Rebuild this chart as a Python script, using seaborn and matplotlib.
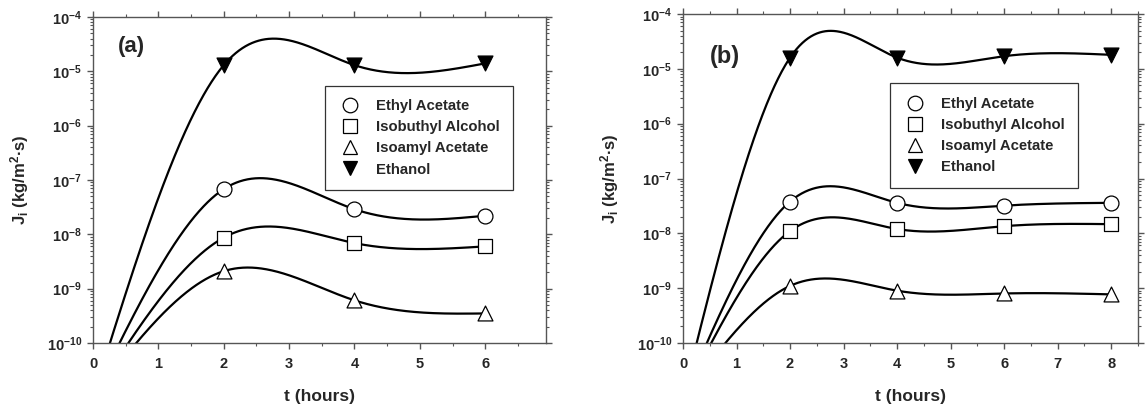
import numpy as np
import pandas as pd
import matplotlib
matplotlib.use("Agg")
import matplotlib.pyplot as plt
from matplotlib.lines import Line2D
from matplotlib.ticker import FixedLocator, MultipleLocator, LogLocator, NullFormatter
import seaborn as sns

# ---------------- data ----------------
species = ["Ethyl Acetate", "Isobuthyl Alcohol", "Isoamyl Acetate", "Ethanol"]

t_a = [2, 4, 6]
ethyl_a = [6.8e-8, 2.9e-8, 2.2e-8]
isobutyl_a = [8.7e-9, 6.9e-9, 6.0e-9]
isoamyl_a = [2.1e-9, 6.1e-10, 3.5e-10]
ethanol_a = [1.3e-5, 1.3e-5, 1.4e-5]

t_b = [2, 4, 6, 8]
ethyl_b = [3.8e-8, 3.6e-8, 3.2e-8, 3.6e-8]
isobutyl_b = [1.1e-8, 1.2e-8, 1.35e-8, 1.47e-8]
isoamyl_b = [1.1e-9, 9.0e-10, 8.0e-10, 7.7e-10]
ethanol_b = [1.6e-5, 1.6e-5, 1.7e-5, 1.8e-5]

# spline anchor at t = 0 (curves start from the origin region)
T0 = 0.0
FLUX_T0 = 1e-11

y_exponents = [-10, -9, -8, -7, -6, -5, -4]
panel_labels = ["(a)", "(b)"]

# ---------------- style ----------------
sns.set_theme(style="ticks")
plt.rcParams["font.family"] = ["Liberation Sans", "DejaVu Sans"]
plt.rcParams["font.weight"] = "bold"
plt.rcParams["mathtext.fontset"] = "custom"
plt.rcParams["mathtext.rm"] = "Liberation Sans:bold"
plt.rcParams["mathtext.bf"] = "Liberation Sans:bold"
plt.rcParams["mathtext.it"] = "Liberation Sans:bold"
plt.rcParams["mathtext.default"] = "bf"

SPINE = "#555555"


def natural_spline(x, y, xs):
    x = np.asarray(x, float)
    y = np.asarray(y, float)
    n = len(x)
    h = np.diff(x)
    A = np.zeros((n, n))
    b = np.zeros(n)
    A[0, 0] = 1
    A[-1, -1] = 1
    for i in range(1, n - 1):
        A[i, i - 1] = h[i - 1]
        A[i, i] = 2 * (h[i - 1] + h[i])
        A[i, i + 1] = h[i]
        b[i] = 6 * ((y[i + 1] - y[i]) / h[i] - (y[i] - y[i - 1]) / h[i - 1])
    M = np.linalg.solve(A, b)
    idx = np.clip(np.searchsorted(x, xs) - 1, 0, n - 2)
    x0, x1 = x[idx], x[idx + 1]
    hh = x1 - x0
    y0, y1 = y[idx], y[idx + 1]
    M0, M1 = M[idx], M[idx + 1]
    return (M0 * (x1 - xs) ** 3 / (6 * hh) + M1 * (xs - x0) ** 3 / (6 * hh)
            + (y0 / hh - M0 * hh / 6) * (x1 - xs) + (y1 / hh - M1 * hh / 6) * (xs - x0))


styles = {
    "Ethyl Acetate": dict(marker="o", face="white"),
    "Isobuthyl Alcohol": dict(marker="s", face="white"),
    "Isoamyl Acetate": dict(marker="^", face="white"),
    "Ethanol": dict(marker="v", face="black"),
}

fig = plt.figure(figsize=(11.45, 4.18), dpi=100)
ax_a = fig.add_axes([93 / 1145, 75 / 418, 453 / 1145, 326 / 418])
ax_b = fig.add_axes([683 / 1145, 75 / 418, 455 / 1145, 329 / 418])

panels = [
    (ax_a, t_a, [ethyl_a, isobutyl_a, isoamyl_a, ethanol_a], 6.93, (0.512, 0.789),
     (0.055, 0.91), 16),
    (ax_b, t_b, [ethyl_b, isobutyl_b, isoamyl_b, ethanol_b], 8.5, (0.455, 0.789),
     (0.06, 0.872), 17),
]

for k, (ax, t, series, xmax, legpos, labpos, labsize) in enumerate(panels):
    for name, vals in zip(species, series):
        xs_knots = [T0] + list(t)
        ys_knots = np.log10([FLUX_T0] + list(vals))
        xx = np.linspace(T0, t[-1], 600)
        yy = 10 ** natural_spline(xs_knots, ys_knots, xx)
        sns.lineplot(x=xx, y=yy, ax=ax, color="black", linewidth=1.6,
                     estimator=None, sort=False, zorder=2)
        st = styles[name]
        sns.scatterplot(x=t, y=vals, ax=ax, marker=st["marker"], s=115,
                        color=st["face"], edgecolor="black", linewidth=0.9,
                        zorder=3, legend=False)
    ax.set_yscale("log")
    ax.set_ylim(1e-10, 1e-4)
    ax.set_xlim(0, xmax)
    ax.xaxis.set_major_locator(MultipleLocator(1))
    ax.xaxis.set_minor_locator(MultipleLocator(0.5))
    ax.yaxis.set_major_locator(FixedLocator([10.0 ** e for e in y_exponents]))
    ax.set_yticklabels([r"$\mathbf{10^{%d}}$" % e for e in y_exponents])
    ax.yaxis.set_minor_locator(LogLocator(base=10, subs=np.arange(2, 10), numticks=20))
    ax.yaxis.set_minor_formatter(NullFormatter())
    for sp in ax.spines.values():
        sp.set_color(SPINE)
        sp.set_linewidth(1.0)
    ax.tick_params(which="both", direction="out", color=SPINE, top=True, right=True,
                   labeltop=False, labelright=False)
    ax.tick_params(which="major", length=4, width=1.0)
    ax.tick_params(which="minor", length=2.5, width=0.8)
    ax.tick_params(axis="x", which="major", labelsize=10.5, pad=6)
    ax.tick_params(axis="y", which="major", labelsize=10.5, pad=4)
    for lab in ax.get_xticklabels():
        lab.set_fontweight("bold")
    ax.set_xlabel("t (hours)", fontsize=12.5, fontweight="bold", labelpad=13)
    ax.set_ylabel(r"J$_\mathbf{i}$ (kg/m$^\mathbf{2}$·s)", fontsize=12,
                  fontweight="bold", labelpad=11)
    ax.text(labpos[0], labpos[1], panel_labels[k], transform=ax.transAxes,
            fontsize=labsize, fontweight="bold", va="center", ha="left")

    handles = [Line2D([], [], linestyle="none", marker=styles[n]["marker"],
                      markersize=10.5, markerfacecolor=styles[n]["face"],
                      markeredgecolor="black", markeredgewidth=0.9) for n in species]
    leg = ax.legend(handles, species, loc="upper left", bbox_to_anchor=legpos,
                    borderaxespad=0, frameon=True, fancybox=False,
                    handlelength=1.6, handletextpad=0.95, labelspacing=0.48,
                    borderpad=0.9, prop={"weight": "bold", "size": 10.7})
    leg.get_frame().set_edgecolor("black")
    leg.get_frame().set_linewidth(0.9)

fig.savefig("out.png", dpi=100)
